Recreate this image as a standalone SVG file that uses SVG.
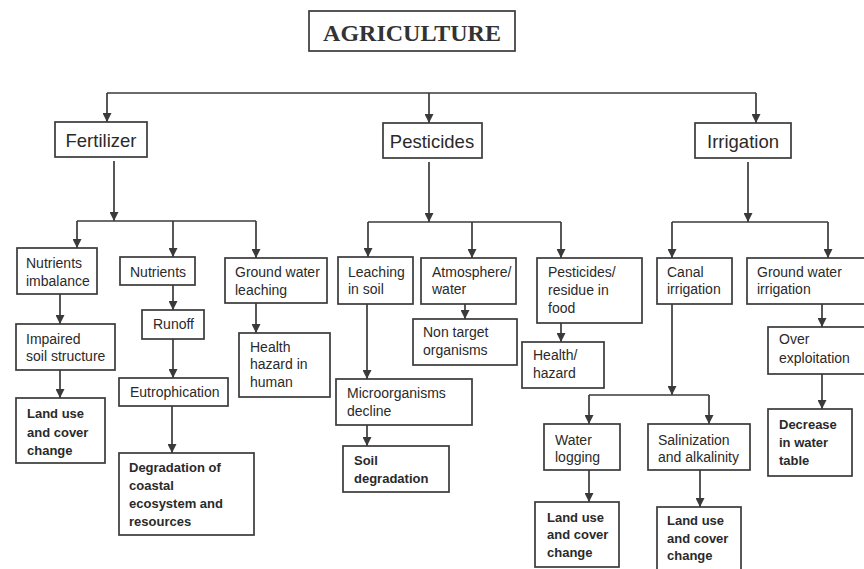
<svg xmlns="http://www.w3.org/2000/svg" width="864" height="569" viewBox="0 0 864 569">
<defs>
<marker id="ah" viewBox="0 0 10 10" refX="10" refY="5" markerWidth="9" markerHeight="9" markerUnits="userSpaceOnUse" orient="auto"><path d="M0,0 L10,5 L0,10 z" fill="#3a3a3a"/></marker>
<style>
.b{fill:#fff;stroke:#3a3a3a;stroke-width:1.7}
.t{font-family:"Liberation Sans",Arial,sans-serif;font-size:14px;fill:#2a2a2a}
.tb{font-family:"Liberation Sans",Arial,sans-serif;font-size:13px;font-weight:bold;fill:#2a2a2a}
.h{font-family:"Liberation Sans",Arial,sans-serif;font-size:18.5px;fill:#2a2a2a;text-anchor:middle}
.c{fill:none;stroke:#3a3a3a;stroke-width:1.7}
.a{fill:none;stroke:#3a3a3a;stroke-width:1.7;marker-end:url(#ah)}
</style>
</defs>
<rect width="864" height="569" fill="#fff"/>
<g id="connectors">
<path class="c" d="M107,93 H756"/>
<path class="a" d="M107,93 V122"/>
<path class="a" d="M429,93 V123"/>
<path class="a" d="M756,93 V123"/>
<path class="a" d="M114,161 V221"/>
<path class="c" d="M77,221 H256"/>
<path class="a" d="M77,221 V248"/>
<path class="a" d="M173,221 V257"/>
<path class="a" d="M256,221 V258"/>
<path class="a" d="M429,162 V222"/>
<path class="c" d="M368,222 H561"/>
<path class="a" d="M368,222 V257"/>
<path class="a" d="M472,222 V258"/>
<path class="a" d="M561,222 V258"/>
<path class="a" d="M748,162 V222"/>
<path class="c" d="M672,222 H828"/>
<path class="a" d="M672,222 V258"/>
<path class="a" d="M828,222 V258"/>
<path class="a" d="M60,294 V324"/>
<path class="a" d="M60,370 V398"/>
<path class="a" d="M173,285 V310"/>
<path class="a" d="M173,339 V378"/>
<path class="a" d="M172,406 V453"/>
<path class="a" d="M256,303 V333"/>
<path class="a" d="M367,304 V379"/>
<path class="a" d="M367,425 V446"/>
<path class="a" d="M465,304 V319"/>
<path class="a" d="M561,323 V342"/>
<path class="a" d="M672,304 V395"/>
<path class="c" d="M589,395 H709"/>
<path class="a" d="M589,395 V424"/>
<path class="a" d="M709,395 V424"/>
<path class="a" d="M589,470 V502"/>
<path class="a" d="M700,470 V507"/>
<path class="a" d="M822,304 V327"/>
<path class="a" d="M822,374 V409"/>
</g>
<g id="agriculture"><rect class="b" x="309" y="11" width="206" height="40"/><text x="412" y="41" text-anchor="middle" style="font-family:'Liberation Serif','Times New Roman',serif;font-size:24px;font-weight:bold;fill:#333">AGRICULTURE</text></g>
<g id="fertilizer"><rect class="b" x="55" y="122" width="92" height="35"/><text class="h" x="101" y="147">Fertilizer</text></g>
<g id="pesticides"><rect class="b" x="383" y="123" width="99" height="35"/><text class="h" x="432" y="148">Pesticides</text></g>
<g id="irrigation"><rect class="b" x="695" y="123" width="96" height="35"/><text class="h" x="743" y="148">Irrigation</text></g>
<g id="nutrients-imbalance"><rect class="b" x="17" y="248" width="80" height="46"/><text class="t" x="26" y="268">Nutrients</text><text class="t" x="26" y="286">imbalance</text></g>
<g id="nutrients"><rect class="b" x="120" y="257" width="75" height="28"/><text class="t" x="130" y="277">Nutrients</text></g>
<g id="ground-water-leaching"><rect class="b" x="225" y="258" width="102" height="45"/><text class="t" x="235" y="277">Ground water</text><text class="t" x="235" y="295">leaching</text></g>
<g id="impaired-soil"><rect class="b" x="16" y="324" width="99" height="46"/><text class="t" x="26" y="344">Impaired</text><text class="t" x="26" y="361">soil structure</text></g>
<g id="land-use-1"><rect class="b" x="16" y="398" width="89" height="65"/><text class="tb" x="27" y="418">Land use</text><text class="tb" x="27" y="437">and cover</text><text class="tb" x="27" y="455">change</text></g>
<g id="runoff"><rect class="b" x="142" y="310" width="62" height="29"/><text class="t" x="153" y="329">Runoff</text></g>
<g id="eutrophication"><rect class="b" x="119" y="378" width="109" height="28"/><text class="t" x="130" y="397">Eutrophication</text></g>
<g id="degradation"><rect class="b" x="119" y="453" width="135" height="82"/><text class="tb" x="129" y="472">Degradation of</text><text class="tb" x="129" y="490">coastal</text><text class="tb" x="129" y="508">ecosystem and</text><text class="tb" x="129" y="526">resources</text></g>
<g id="health-hazard-human"><rect class="b" x="239" y="333" width="91" height="64"/><text class="t" x="250" y="352">Health</text><text class="t" x="250" y="369">hazard in</text><text class="t" x="250" y="387">human</text></g>
<g id="leaching-soil"><rect class="b" x="338" y="257" width="75" height="47"/><text class="t" x="348" y="277">Leaching</text><text class="t" x="348" y="294">in soil</text></g>
<g id="atmosphere"><rect class="b" x="421" y="258" width="95" height="46"/><text class="t" x="432" y="277">Atmosphere/</text><text class="t" x="432" y="294">water</text></g>
<g id="residue"><rect class="b" x="537" y="258" width="105" height="65"/><text class="t" x="548" y="277">Pesticides/</text><text class="t" x="548" y="295">residue in</text><text class="t" x="548" y="313">food</text></g>
<g id="non-target"><rect class="b" x="413" y="319" width="104" height="46"/><text class="t" x="423" y="337">Non target</text><text class="t" x="423" y="355">organisms</text></g>
<g id="health-hazard"><rect class="b" x="522" y="342" width="82" height="46"/><text class="t" x="533" y="360">Health/</text><text class="t" x="533" y="378">hazard</text></g>
<g id="microorganisms"><rect class="b" x="336" y="379" width="136" height="46"/><text class="t" x="347" y="398">Microorganisms</text><text class="t" x="347" y="416">decline</text></g>
<g id="soil-degradation"><rect class="b" x="343" y="446" width="106" height="46"/><text class="tb" x="354" y="465">Soil</text><text class="tb" x="354" y="483">degradation</text></g>
<g id="canal"><rect class="b" x="657" y="258" width="75" height="46"/><text class="t" x="667" y="277">Canal</text><text class="t" x="667" y="294">irrigation</text></g>
<g id="ground-water-irrigation"><rect class="b" x="747" y="258" width="123" height="46"/><text class="t" x="757" y="277">Ground water</text><text class="t" x="757" y="294">irrigation</text></g>
<g id="over-exploitation"><rect class="b" x="768" y="327" width="102" height="47"/><text class="t" x="779" y="344">Over</text><text class="t" x="779" y="363">exploitation</text></g>
<g id="decrease"><rect class="b" x="768" y="409" width="84" height="67"/><text class="tb" x="779" y="429">Decrease</text><text class="tb" x="779" y="447">in water</text><text class="tb" x="779" y="465">table</text></g>
<g id="water-logging"><rect class="b" x="544" y="424" width="76" height="46"/><text class="t" x="555" y="445">Water</text><text class="t" x="555" y="462">logging</text></g>
<g id="salinization"><rect class="b" x="648" y="424" width="102" height="46"/><text class="t" x="658" y="445">Salinization</text><text class="t" x="658" y="462">and alkalinity</text></g>
<g id="land-use-2"><rect class="b" x="535" y="502" width="84" height="65"/><text class="tb" x="547" y="522">Land use</text><text class="tb" x="547" y="539">and cover</text><text class="tb" x="547" y="557">change</text></g>
<g id="land-use-3"><rect class="b" x="657" y="507" width="84" height="70"/><text class="tb" x="667" y="525">Land use</text><text class="tb" x="667" y="543">and cover</text><text class="tb" x="667" y="560">change</text></g>
</svg>
